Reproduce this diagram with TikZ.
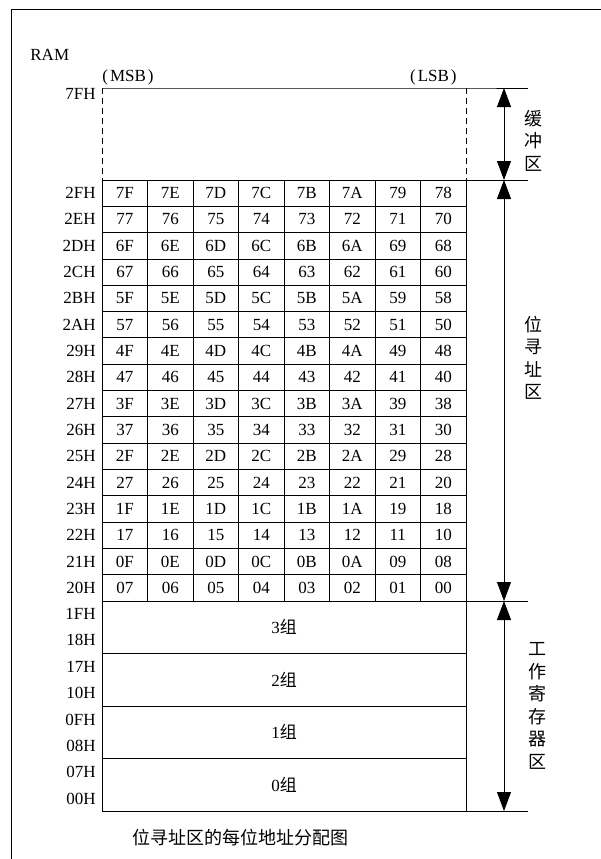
\documentclass[tikz,border=0pt]{standalone}
\usepackage{fontspec}
\setmainfont{Liberation Serif}
\newfontfamily\cjk{Noto Sans CJK SC}
\usetikzlibrary{arrows.meta}
\begin{document}
\begin{tikzpicture}[x=1pt,y=-1pt,
  line width=0.8pt,
  lat/.style={font=\fontsize{17}{20}\selectfont, inner sep=0pt, text height=11pt, text depth=0pt},
  addr/.style={lat, anchor=east},
  cell/.style={lat, draw, minimum width=45.5pt, minimum height=26.3125pt},
  grp/.style={lat, draw, minimum width=364pt, minimum height=52.5pt, text height=13pt},
  vlab/.style={font=\cjk\fontsize{18}{22.5}\selectfont, align=center, inner sep=0pt},
  dashline/.style={dash pattern=on 6pt off 4pt},
  dimarrow/.style={{Triangle[length=19pt,width=14pt]}-{Triangle[length=19pt,width=14pt]}, line width=0.8pt}
]
\useasboundingbox (0,0) rectangle (601,859);
% outer frame
\coordinate (fBL) at (11,859);
\coordinate (fTL) at (11,9);
\coordinate (fTR) at (601,9);
\draw (fBL) -- (fTL) -- (fTR);

% headings
\node[lat, anchor=west] (ram) at (30,55) {RAM};
\node[lat, anchor=west] (msb) at (102,76) {(\kern2ptMSB\kern2pt)};
\node[lat, anchor=east] (lsb) at (457,76) {(\kern2ptLSB\kern2pt)};
\node[addr] (a7F) at (96,94) {7FH};

% key coordinates
\coordinate (bufTL) at (102,88);
\coordinate (bufTR) at (466,88);
\coordinate (gridTL) at (102,180);
\coordinate (gridTR) at (466,180);
\coordinate (gridBR) at (466,601);
\coordinate (grpBR) at (466,811);
\coordinate (e1) at (528,88);
\coordinate (e2) at (528,180);
\coordinate (e3) at (528,601);
\coordinate (e4) at (528,811);
\coordinate (ar1) at (504,88);
\coordinate (ar2) at (504,180);
\coordinate (ar3) at (504,601);
\coordinate (ar4) at (504,811);

% buffer region
\draw (bufTL) -- (bufTR) -- (e1);
\draw[dashline] (bufTL) -- (gridTL);
\draw[dashline] (bufTR) -- (gridTR);
\draw (gridTR) -- (e2);
\draw (gridBR) -- (e3);
\draw (grpBR) -- (e4);

% bit-addressable grid
\foreach \ad/\cells [count=\r from 0] in {
  2F/{7F,7E,7D,7C,7B,7A,79,78},
  2E/{77,76,75,74,73,72,71,70},
  2D/{6F,6E,6D,6C,6B,6A,69,68},
  2C/{67,66,65,64,63,62,61,60},
  2B/{5F,5E,5D,5C,5B,5A,59,58},
  2A/{57,56,55,54,53,52,51,50},
  29/{4F,4E,4D,4C,4B,4A,49,48},
  28/{47,46,45,44,43,42,41,40},
  27/{3F,3E,3D,3C,3B,3A,39,38},
  26/{37,36,35,34,33,32,31,30},
  25/{2F,2E,2D,2C,2B,2A,29,28},
  24/{27,26,25,24,23,22,21,20},
  23/{1F,1E,1D,1C,1B,1A,19,18},
  22/{17,16,15,14,13,12,11,10},
  21/{0F,0E,0D,0C,0B,0A,09,08},
  20/{07,06,05,04,03,02,01,00}}{
  \node[addr] (a\ad) at (96,{193.156+26.3125*\r}) {\ad H};
  \foreach \v [count=\c from 0] in \cells {
    \node[cell] (c\ad-\c) at ({124.75+45.5*\c},{193.156+26.3125*\r}) {\v};
  }
}

% register banks
\node[grp] (g3) at (284,627.25) {3{\cjk 组}};
\node[grp] (g2) at (284,679.75) {2{\cjk 组}};
\node[grp] (g1) at (284,732.25) {1{\cjk 组}};
\node[grp] (g0) at (284,784.75) {0{\cjk 组}};
\node[addr] (l1F) at (96,614) {1FH};
\node[addr] (l18) at (96,640) {18H};
\node[addr] (l17) at (96,667) {17H};
\node[addr] (l10) at (96,693) {10H};
\node[addr] (l0F) at (96,720) {0FH};
\node[addr] (l08) at (96,746) {08H};
\node[addr] (l07) at (96,772) {07H};
\node[addr] (l00) at (96,799) {00H};

% dimension arrows
\draw[dimarrow] (ar1) -- (ar2);
\draw[dimarrow] (ar2) -- (ar3);
\draw[dimarrow] (ar3) -- (ar4);

% side labels
\node[vlab] (lbuf) at (533,140.5) {缓\\冲\\区};
\node[vlab] (lbit) at (533,358) {位\\寻\\址\\区};
\node[vlab] (lreg) at (537,706) {工\\作\\寄\\存\\器\\区};

% caption
\node[font=\cjk\fontsize{18}{20}\selectfont, inner sep=0pt] (cap) at (240,838) {位寻址区的每位地址分配图};
\end{tikzpicture}
\end{document}
